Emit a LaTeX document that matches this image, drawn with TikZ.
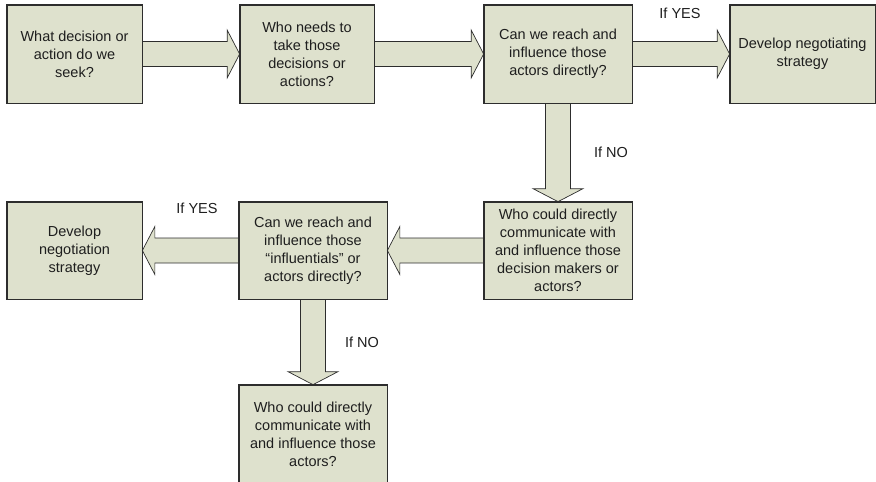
\documentclass[tikz,border=0pt]{standalone}
\usepackage{fontspec}
\setmainfont{Liberation Sans}
\usetikzlibrary{calc}
\definecolor{boxfill}{RGB}{222,225,205}
\definecolor{edge}{RGB}{45,45,45}
\definecolor{ink}{RGB}{30,30,30}
% block arrows between two named boxes
\newcommand{\blockright}[2]{\path[blockarrow] let \p1=(#1.east), \p2=(#2.west) in
  (\x1,\y1+12.5pt) -- (\x2-12.5pt,\y1+12.5pt) -- (\x2-12.5pt,\y1+24pt) -- (\x2,\y1)
  -- (\x2-12.5pt,\y1-24pt) -- (\x2-12.5pt,\y1-12.5pt) -- (\x1,\y1-12.5pt) -- cycle;}
\newcommand{\blockleft}[2]{\path[blockarrow] let \p1=(#1.west), \p2=(#2.east) in
  (\x1,\y1+12.5pt) -- (\x2+12.5pt,\y1+12.5pt) -- (\x2+12.5pt,\y1+24pt) -- (\x2,\y1)
  -- (\x2+12.5pt,\y1-24pt) -- (\x2+12.5pt,\y1-12.5pt) -- (\x1,\y1-12.5pt) -- cycle;}
\newcommand{\blockdown}[2]{\path[blockarrow] let \p1=(#1.south), \p2=(#2.north) in
  (\x1-12.5pt,\y1) -- (\x1-12.5pt,\y2+13pt) -- (\x1-25pt,\y2+13pt) -- (\x1,\y2)
  -- (\x1+25pt,\y2+13pt) -- (\x1+12.5pt,\y2+13pt) -- (\x1+12.5pt,\y1) -- cycle;}
\begin{document}
\begin{tikzpicture}[x=1pt,y=-1pt,
  box/.style={draw=edge,fill=boxfill,line width=0.7pt,rectangle,inner sep=0pt,
    align=center,text=ink,font=\fontsize{14.5}{18}\selectfont},
  blockarrow/.style={draw=edge,fill=boxfill,line width=0.7pt,line join=miter},
  lbl/.style={text=ink,inner sep=0pt,font=\fontsize{14.5}{18}\selectfont}]
\useasboundingbox (0,0) rectangle (876,482);
\clip (0,0) rectangle (876,482);
% boxes
\node[box,minimum width=135pt,minimum height=98pt] (seek) at (74.5,54)
  {What decision or\\action do we\\seek?};
\node[box,minimum width=134pt,minimum height=98pt] (who) at (307,54)
  {Who needs to\\take those\\decisions or\\actions?};
\node[box,minimum width=148pt,minimum height=98pt] (reach) at (558,54)
  {Can we reach and\\influence those\\actors directly?};
\node[box,minimum width=145pt,minimum height=98pt] (strat) at (802.5,54)
  {Develop negotiating\\strategy};
\node[box,minimum width=148pt,minimum height=97pt] (comm) at (558,250.5)
  {Who could directly\\communicate with\\and influence those\\decision makers or\\actors?};
\node[box,minimum width=148pt,minimum height=97pt] (reach2) at (313,250.5)
  {Can we reach and\\influence those\\“influentials” or\\actors directly?};
\node[box,minimum width=135pt,minimum height=97pt] (strat2) at (74.5,250.5)
  {Develop\\negotiation\\strategy};
\node[box,minimum width=148pt,minimum height=98pt] (comm2) at (313,434)
  {Who could directly\\communicate with\\and influence those\\actors?};
% connectors
\blockright{seek}{who}
\blockright{who}{reach}
\blockright{reach}{strat}
\blockdown{reach}{comm}
\blockleft{comm}{reach2}
\blockleft{reach2}{strat2}
\blockdown{reach2}{comm2}
% redraw box outlines over the arrow ends
\foreach \n in {seek,who,reach,strat,comm,reach2,strat2,comm2}
  \draw[draw=edge,line width=0.7pt] (\n.north west) rectangle (\n.south east);
% labels
\node[lbl] (yes1) at (680,13) {If YES};
\node[lbl] (no1) at (611,152) {If NO};
\node[lbl] (yes2) at (197,208) {If YES};
\node[lbl] (no2) at (362,342) {If NO};
\end{tikzpicture}
\end{document}
